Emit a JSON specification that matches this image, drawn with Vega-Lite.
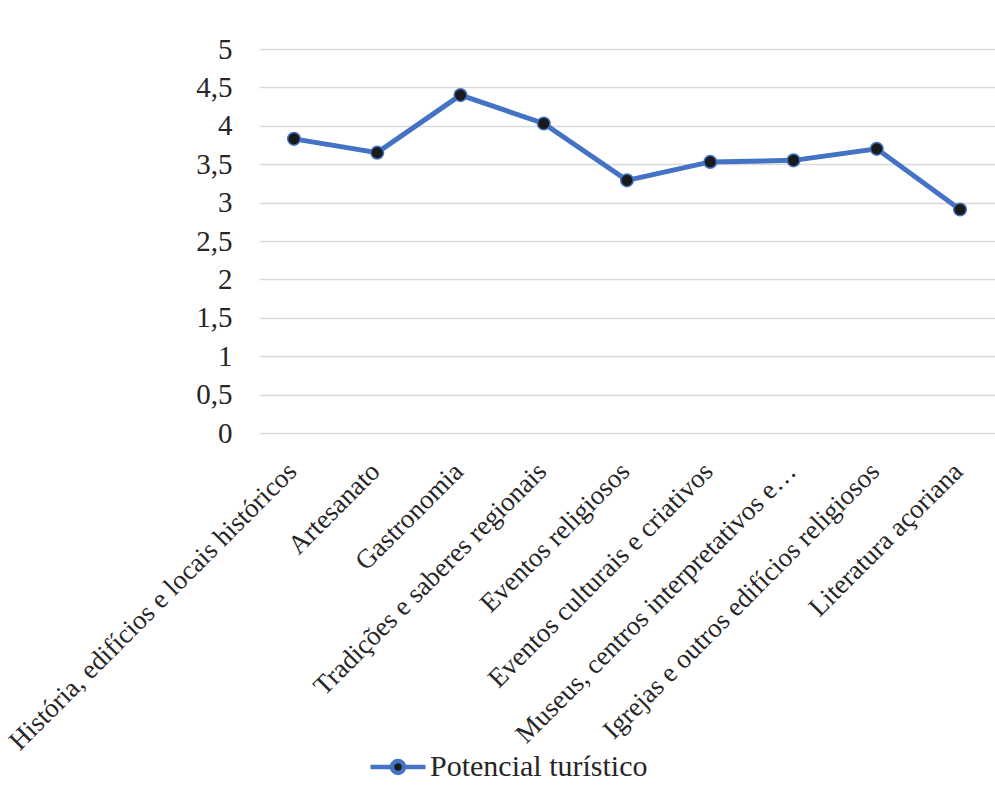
{
  "$schema": "https://vega.github.io/schema/vega-lite/v6.json",
  "autosize": {"type": "none"},
  "padding": {"left": 259, "top": 49, "right": 0, "bottom": 365},
  "width": 736,
  "height": 384,
  "background": "white",
  "config": {"font": "Liberation Serif", "view": {"stroke": null}},
  "data": {
    "values": [
      {"categoria": "História, edifícios e locais históricos", "valor": 3.83, "serie": "Potencial turístico"},
      {"categoria": "Artesanato", "valor": 3.65, "serie": "Potencial turístico"},
      {"categoria": "Gastronomia", "valor": 4.40, "serie": "Potencial turístico"},
      {"categoria": "Tradições e saberes regionais", "valor": 4.03, "serie": "Potencial turístico"},
      {"categoria": "Eventos religiosos", "valor": 3.29, "serie": "Potencial turístico"},
      {"categoria": "Eventos culturais e criativos", "valor": 3.53, "serie": "Potencial turístico"},
      {"categoria": "Museus, centros interpretativos e…", "valor": 3.55, "serie": "Potencial turístico"},
      {"categoria": "Igrejas e outros edifícios religiosos", "valor": 3.70, "serie": "Potencial turístico"},
      {"categoria": "Literatura açoriana", "valor": 2.91, "serie": "Potencial turístico"}
    ]
  },
  "encoding": {
    "x": {
      "field": "categoria", "type": "nominal", "sort": null,
      "scale": {"type": "point", "padding": 0.42},
      "axis": {"title": null, "labelAngle": -45, "labelAlign": "right", "labelBaseline": "middle", "labelFontSize": 27, "labelColor": "#262626", "domain": false, "ticks": false, "grid": false, "labelPadding": 34, "labelOffset": -2, "labelLimit": 1000}
    },
    "y": {
      "field": "valor", "type": "quantitative",
      "scale": {"domain": [0, 5], "nice": false},
      "axis": {"title": null, "values": [0, 0.5, 1, 1.5, 2, 2.5, 3, 3.5, 4, 4.5, 5], "labelExpr": "replace(format(datum.value, '.1~f'), '.', ',')", "labelFontSize": 29, "labelColor": "#262626", "labelPadding": 27, "domain": false, "ticks": false, "gridColor": "#d9d9d9", "gridWidth": 1.5}
    }
  },
  "layer": [
    {
      "mark": {"type": "line", "strokeWidth": 5},
      "encoding": {
        "color": {
          "field": "serie", "type": "nominal",
          "scale": {"range": ["#4472C4"]},
          "legend": {
            "title": null, "orient": "none", "legendX": 109, "legendY": 688, "padding": 0,
            "labelFontSize": 30, "labelColor": "#262626", "labelOffset": 2, "labelLimit": 1000,
            "symbolType": "M-1,0L-0.22,0M0.22,0L1,0M0.22,0A0.22,0.22 0 1,1 -0.22,0A0.22,0.22 0 1,1 0.22,0",
            "symbolSize": 3025, "symbolStrokeWidth": 4.5, "symbolFillColor": "#1a1a1a",
            "encode": {"symbols": {"update": {"fill": {"value": "#1a1a1a"}, "stroke": {"value": "#4472C4"}}}}
          }
        }
      }
    },
    {
      "mark": {"type": "circle", "fill": "#1a1a1a", "stroke": "#4472C4", "strokeWidth": 1.5, "size": 160, "opacity": 1}
    }
  ]
}
